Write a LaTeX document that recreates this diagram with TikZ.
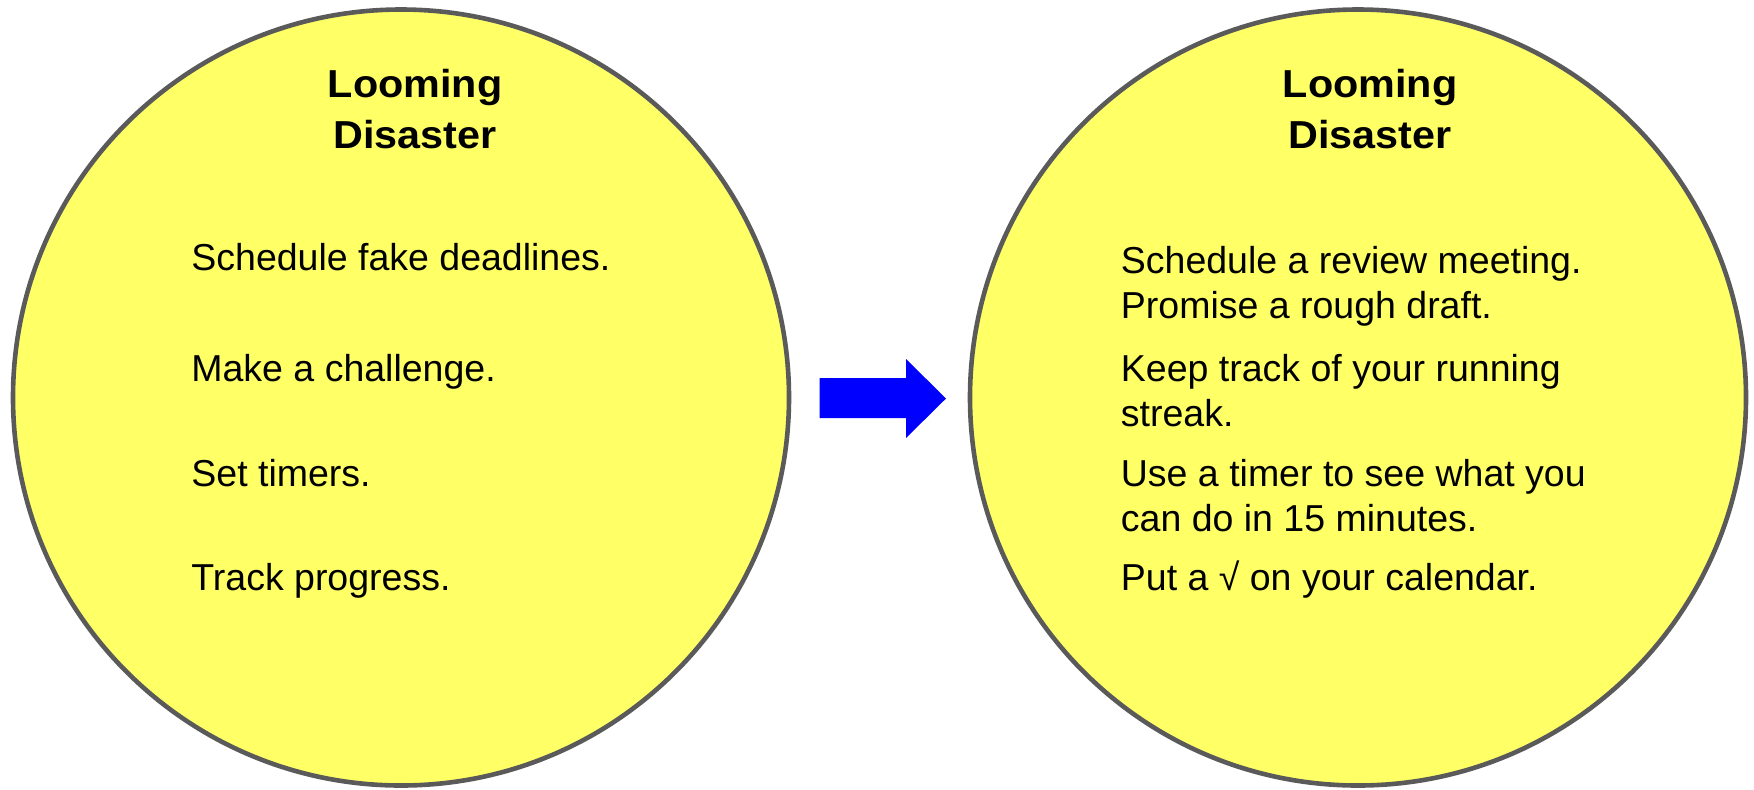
\documentclass[tikz,border=0pt]{standalone}
\usepackage{fontspec}
\setmainfont{Liberation Sans}
\newfontfamily\headfont[FakeStretch=1.06]{Liberation Sans Bold}
\definecolor{discfill}{HTML}{FFFF66}
\definecolor{discedge}{HTML}{5A5A5A}
\definecolor{arrowblue}{HTML}{0000FF}
\begin{document}
\begin{tikzpicture}[x=0.5pt,y=-0.5pt,
  disc/.style={circle,draw=discedge,fill=discfill,line width=2.3pt,minimum size=388pt,inner sep=0pt},
  title/.style={anchor=base,inner sep=0pt,font=\headfont\fontsize{19.5}{24}\selectfont},
  item/.style={anchor=base west,inner sep=0pt,font=\fontsize{18.75}{22}\selectfont}]
\useasboundingbox (0,0) rectangle (1754,789);
% the two discs
\node[disc] (left) at (401,397.5) {};
\node[disc] (right) at (1358,397.5) {};
% headings
\node[title] (lt1) at (415,97.7) {Looming};
\node[title] (lt2) at (415,148.3) {Disaster};
\node[title] (rt1) at (1370,97.7) {Looming};
\node[title] (rt2) at (1370,148.3) {Disaster};
% left list
\node[item] (l1) at (191,270.5) {Schedule fake deadlines.};
\node[item] (l2) at (191,381) {Make a challenge.};
\node[item] (l3) at (191,486) {Set timers.};
\node[item] (l4) at (191,590) {Track progress.};
% right list
\node[item] (r1a) at (1120.5,273) {Schedule a review meeting.};
\node[item] (r1b) at (1120.5,318) {Promise a rough draft.};
\node[item] (r2a) at (1120.5,381.5) {Keep track of your running};
\node[item] (r2b) at (1120.5,426.5) {streak.};
\node[item] (r3a) at (1120.5,486.5) {Use a timer to see what you};
\node[item] (r3b) at (1120.5,531.5) {can do in 15 minutes.};
\node[item] (r4) at (1120.5,590.5) {Put a √ on your calendar.};
% block arrow between the discs
\fill[arrowblue] (819.5,378) -- (906,378) -- (906,359) -- (946,398.5)
  -- (906,438) -- (906,418) -- (819.5,418) -- cycle;
\end{tikzpicture}
\end{document}
